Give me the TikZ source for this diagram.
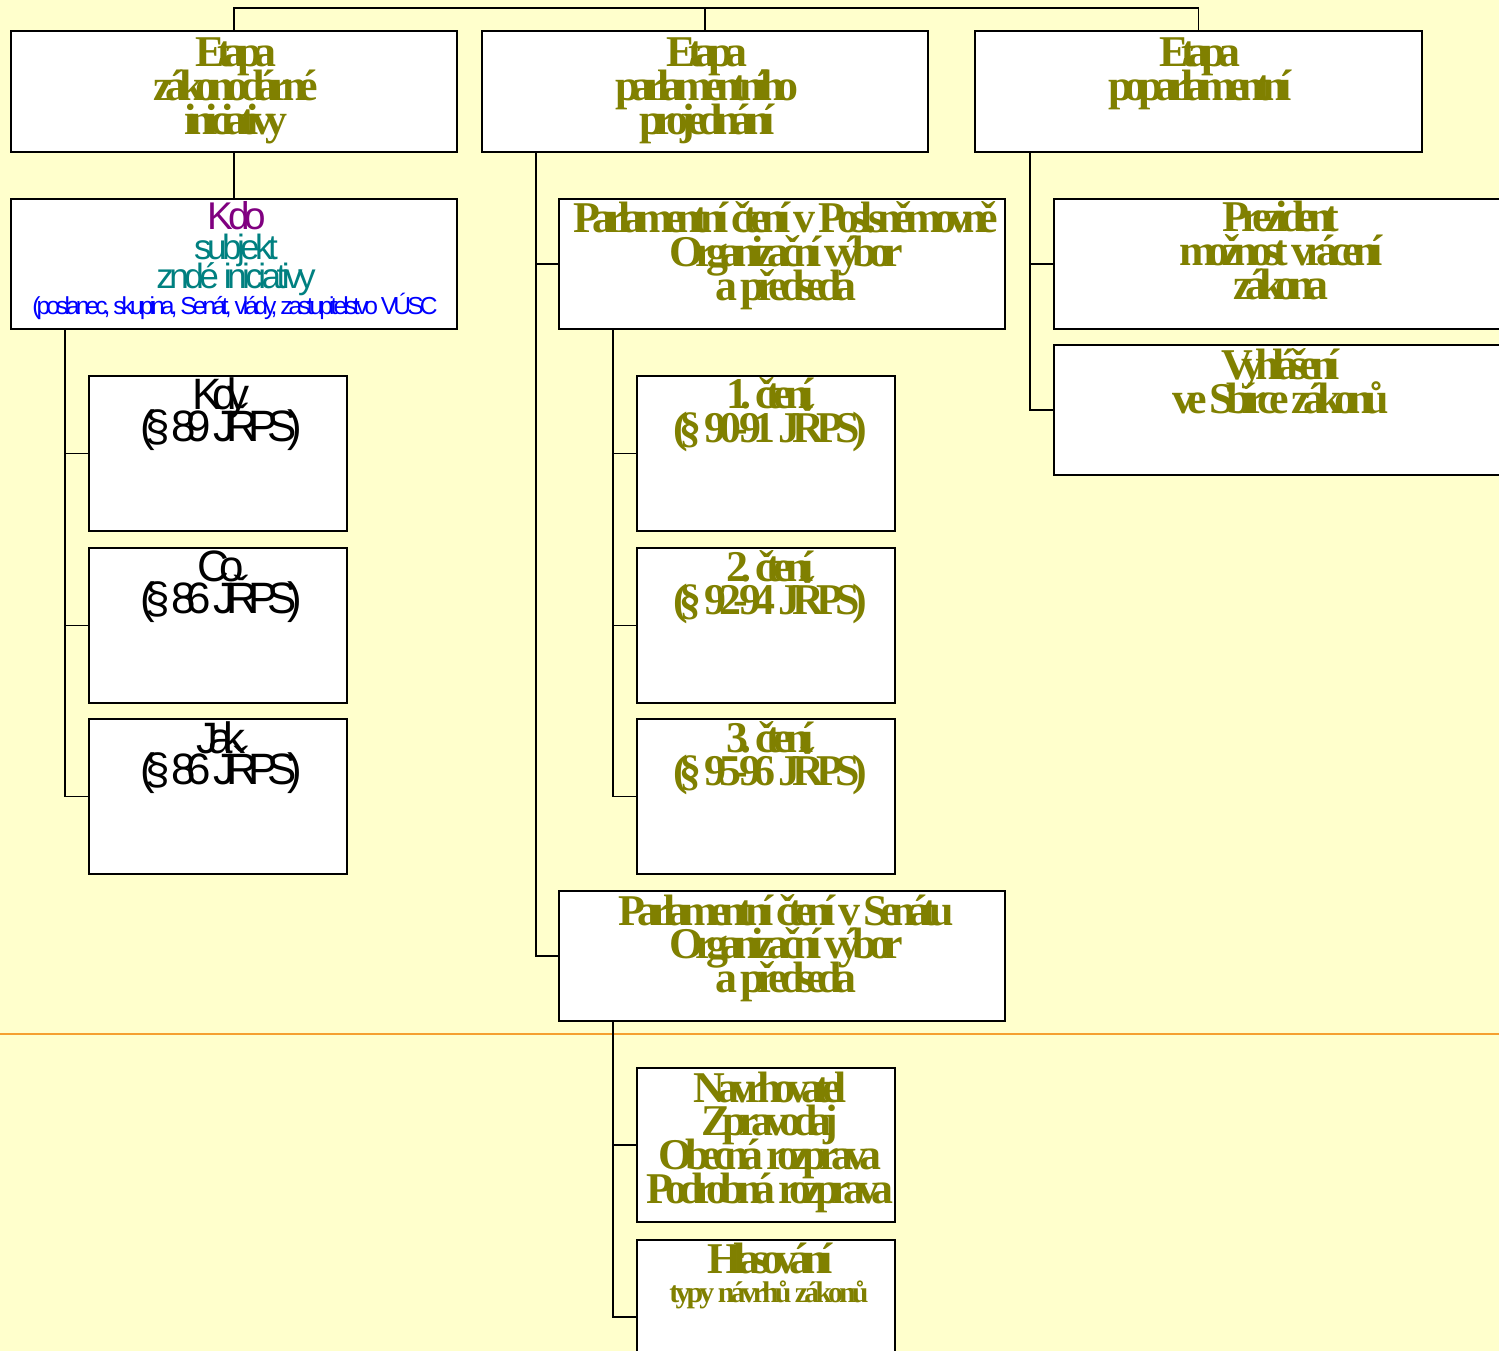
\documentclass[tikz,border=0pt]{standalone}
\usepackage{fontspec}
\newfontfamily\olfont[LetterSpace=-18]{Liberation Serif}
\newfontfamily\olfontb[LetterSpace=-13]{Liberation Serif}
\newfontfamily\arfont[LetterSpace=-22]{Liberation Sans}
\newfontfamily\arfontb[LetterSpace=-13]{Liberation Sans}
\newfontfamily\arfontc[LetterSpace=-16]{Liberation Sans}
\definecolor{bgc}{HTML}{FFFFCC}
\definecolor{olivec}{HTML}{808000}
\definecolor{purplec}{HTML}{800080}
\definecolor{tealc}{HTML}{008080}
\definecolor{bluec}{HTML}{0000FF}
\definecolor{orangec}{HTML}{F5A030}
\newcommand\T{\rule{0pt}{1em}}
\newcommand\mkbox[5]{\node[bx, minimum width={(#4-#2)*0.02cm}, minimum height={(#5-#3)*0.02cm}] (#1) at ({(#2+#4)/2},{(#3+#5)/2}) {};}
\tikzset{
 bx/.style={draw=black, fill=white, line width=1.1pt, inner sep=0pt, outer sep=0pt, rectangle},
 conn/.style={draw=black, line width=1.1pt},
 tbase/.style={anchor=north, inner sep=0pt, outer sep=0pt, align=center},
 ol/.style={tbase, text=olivec, font={\olfont\bfseries\fontsize{25pt}{19.3pt}\selectfont\lineskiplimit=-100pt}, yshift=25pt},
 olsm/.style={tbase, text=olivec, font={\olfontb\bfseries\fontsize{17pt}{15pt}\selectfont\lineskiplimit=-100pt}, yshift=17pt},
 blk/.style={tbase, text=black, font={\arfont\fontsize{25pt}{18.2pt}\selectfont\lineskiplimit=-100pt}, yshift=25pt},
 kdost/.style={tbase, text=purplec, font={\arfontb\fontsize{22pt}{20pt}\selectfont}, yshift=22pt},
 subj/.style={tbase, text=tealc, font={\arfontb\fontsize{20pt}{16pt}\selectfont\lineskiplimit=-100pt}, yshift=20pt},
 posl/.style={tbase, text=bluec, font={\arfontc\fontsize{14pt}{14pt}\selectfont}, yshift=14pt},
}
\begin{document}
\begin{tikzpicture}[x=0.02cm, y=-0.02cm]
\clip (0,0) rectangle (1499,1351);
\fill[bgc] (0,0) rectangle (1499,1351);
\draw[orangec, line width=1.5pt] (0,1034) -- (1499,1034);
% boxes
\mkbox{bA}{11}{31}{457}{152}
\mkbox{bB}{482}{31}{928}{152}
\mkbox{bC}{975}{31}{1422}{152}
\mkbox{bKdo}{11}{199}{457}{329}
\mkbox{bKdy}{89}{376}{347}{531}
\mkbox{bCo}{89}{548}{347}{703}
\mkbox{bJak}{89}{719}{347}{874}
\mkbox{bPs}{559}{199}{1005}{329}
\mkbox{bC1}{637}{376}{895}{531}
\mkbox{bC2}{637}{548}{895}{703}
\mkbox{bC3}{637}{719}{895}{874}
\mkbox{bSen}{559}{891}{1005}{1021}
\mkbox{bNav}{637}{1068}{895}{1222}
\mkbox{bHl}{637}{1240}{895}{1394}
\mkbox{bPre}{1054}{199}{1501}{329}
\mkbox{bVyh}{1054}{345}{1501}{475}
% connectors
\coordinate (tbar) at (705,8);
\coordinate (sL) at (65,0);
\coordinate (sB) at (536,0);
\coordinate (sP) at (613,0);
\coordinate (sC) at (1030,0);
\draw[conn] (bA.north) |- (tbar) -| (bC.north);
\draw[conn] (bB.north) -- (tbar);
\draw[conn] (bA.south) -- (bKdo.north);
\draw[conn] (bKdo.south -| sL) |- (bKdy.west);
\draw[conn] (bKdo.south -| sL) |- (bCo.west);
\draw[conn] (bKdo.south -| sL) |- (bJak.west);
\draw[conn] (bB.south -| sB) |- (bPs.west);
\draw[conn] (bB.south -| sB) |- (bSen.west);
\draw[conn] (bPs.south -| sP) |- (bC1.west);
\draw[conn] (bPs.south -| sP) |- (bC2.west);
\draw[conn] (bPs.south -| sP) |- (bC3.west);
\draw[conn] (bSen.south -| sP) |- (bNav.west);
\draw[conn] (bSen.south -| sP) |- (bHl.west);
\draw[conn] (bC.south -| sC) |- (bPre.west);
\draw[conn] (bC.south -| sC) |- (bVyh.west);
% texts
\node[ol] (tA) at (236,67) {\T Etapa\\zákonodárné\\iniciativy};
\node[ol] (tB) at (707,67) {\T Etapa\\parlamentního\\projednání};
\node[ol] (tC) at (1200,67) {\T Etapa\\poparlamentní};
\node[kdost] (tKdo) at (237,230) {\T Kdo};
\node[subj] (tSubj) at (236,260) {\T subjekt\\zndé iniciativy};
\node[posl] (tPosl) at (235,315) {\T(poslanec, skupina, Senát, vlády, zastupitelstvo VÚSC};
\node[blk] (tKdy) at (221,410) {\T Kdy\\(§ 89 JŘPS)};
\node[blk] (tCo) at (221,582) {\T Co\\(§ 86 JŘPS)};
\node[blk] (tJak) at (221,753) {\T Jak\\(§ 86 JŘPS)};
\node[ol] (tPs) at (786,233) {\T Parlamentní čtení v Posl.sněmovně\\Organizační výbor\\a předseda};
\node[ol] (tC1) at (770,409) {\T 1. čtení\\(§ 90-91 JŘPS)};
\node[ol] (tC2) at (770,581) {\T 2. čtení\\(§ 92-94 JŘPS)};
\node[ol] (tC3) at (770,752) {\T 3. čtení\\(§ 95-96 JŘPS)};
\node[ol] (tSen) at (786,925) {\T Parlamentní čtení v Senátu\\Organizační výbor\\a předseda};
\node[ol] (tNav) at (770,1102) {\T Navrhovatel\\Zpravodaj\\Obecná rozprava\\Podrobná rozprava};
\node[ol] (tHl) at (770,1273) {\T Hlasování};
\node[olsm] (tTyp) at (769,1302) {\T typy návrhů zákonů};
\node[ol] (tPre) at (1281,232) {\T Prezident\\možnost vrácení\\zákona};
\node[ol] (tVyh) at (1281,380) {\T Vyhlášení\\ve Sbírce zákonů};
\end{tikzpicture}
\end{document}
